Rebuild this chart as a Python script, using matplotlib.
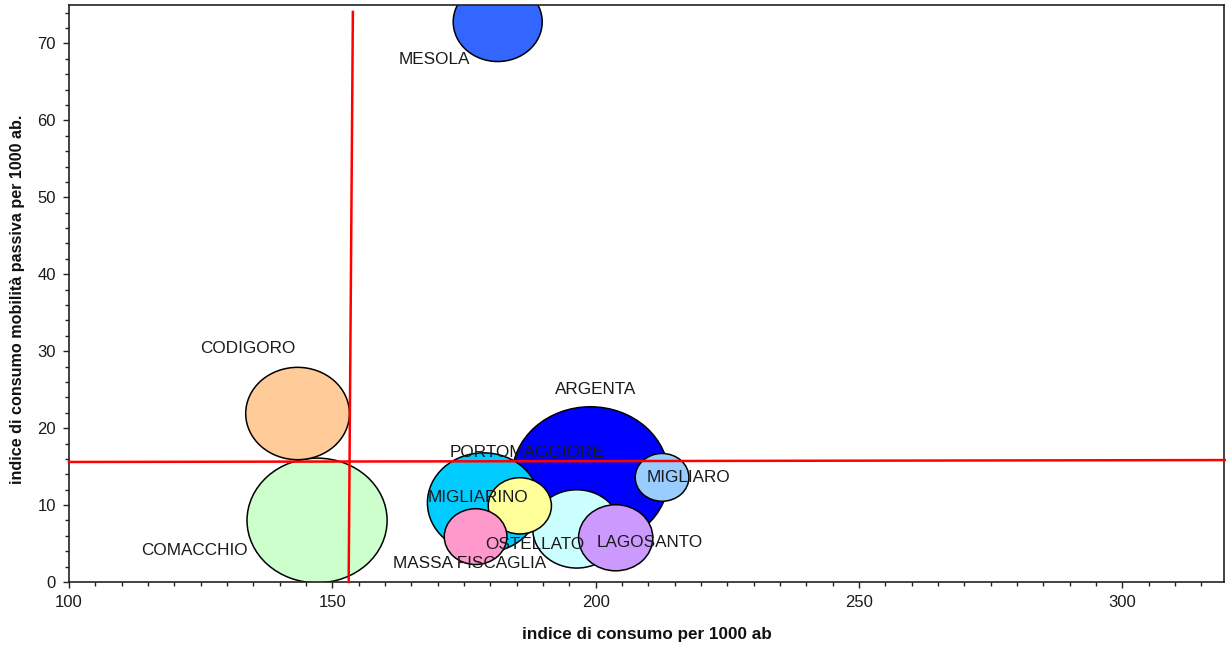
import matplotlib
matplotlib.use("Agg")
import matplotlib.pyplot as plt
from matplotlib.patches import Ellipse
from matplotlib.ticker import MultipleLocator

# Municipalities: consumption index (x), passive-mobility index (y), bubble diameter (x units)
comuni = ["ARGENTA", "COMACCHIO", "PORTOMAGGIORE", "CODIGORO", "MESOLA",
          "OSTELLATO", "LAGOSANTO", "MIGLIARINO", "MASSA FISCAGLIA", "MIGLIARO"]
consumo = [199.0, 147.1, 178.7, 143.4, 181.4, 196.4, 203.8, 185.6, 177.2, 212.6]
mobilita = [13.7, 8.0, 10.3, 21.9, 72.8, 6.9, 5.75, 9.9, 5.9, 13.6]
diametro = [29.8, 26.6, 21.3, 19.7, 16.9, 16.7, 14.1, 12.0, 11.9, 10.2]
colori = ["#0000FF", "#CCFFCC", "#00CCFF", "#FFCC99", "#3366FF",
          "#CCFFFF", "#CC99FF", "#FFFF99", "#FF99CC", "#99CCFF"]

# Label offsets from bubble centre (pixels)
label_offset = {
    "ARGENTA": (5, 87), "COMACCHIO": (-123, -30), "PORTOMAGGIORE": (43, 50),
    "CODIGORO": (-50, 65), "MESOLA": (-63, -38), "OSTELLATO": (-42, -16),
    "LAGOSANTO": (34, -5), "MIGLIARINO": (-42, 8), "MASSA FISCAGLIA": (-6, -27),
    "MIGLIARO": (26, 0),
}

# Reference lines (mean values)
vline_x = [153.1, 153.9]
vline_y = [0.0, 74.1]
hline_x = [100.0, 320.0]
hline_y = [15.6, 15.85]

x_min, x_max = 100, 319.3
y_min, y_max = 0, 75
BUBBLE_ASPECT = 0.89

plt.rcParams["font.family"] = ["Liberation Sans", "DejaVu Sans"]

fig = plt.figure(figsize=(12.26, 6.48), dpi=100)
ax = fig.add_axes([69 / 1226, 66 / 648, 1155 / 1226, 577 / 648])
ax.set_xlim(x_min, x_max)
ax.set_ylim(y_min, y_max)

# pixel scale of each axis, to keep bubbles nearly round on screen
px_x = ax.get_position().width * fig.get_figwidth() * fig.dpi / (x_max - x_min)
px_y = ax.get_position().height * fig.get_figheight() * fig.dpi / (y_max - y_min)

for name, x, y, d, c in zip(comuni, consumo, mobilita, diametro, colori):
    h = d * BUBBLE_ASPECT * px_x / px_y
    ax.add_patch(Ellipse((x, y), d, h, facecolor=c, edgecolor="black",
                         linewidth=1.1, zorder=2))

for name, x, y in zip(comuni, consumo, mobilita):
    dx, dy = label_offset[name]
    ax.annotate(name, (x, y), xytext=(dx, dy), textcoords="offset pixels",
                ha="center", va="center", fontsize=12.3, color="#1a1a1a",
                zorder=5)

ax.plot(vline_x, vline_y, color="#FF0000", linewidth=1.8, zorder=4, clip_on=False)
ax.plot(hline_x, hline_y, color="#FF0000", linewidth=1.8, zorder=4, clip_on=False)

ax.xaxis.set_major_locator(MultipleLocator(50))
ax.xaxis.set_minor_locator(MultipleLocator(5))
ax.yaxis.set_major_locator(MultipleLocator(10))
ax.yaxis.set_minor_locator(MultipleLocator(2))
ax.tick_params(axis="both", which="major", direction="out", length=4.3,
               width=1.0, labelsize=12, labelcolor="#1a1a1a", color="#222222")
ax.tick_params(axis="both", which="minor", direction="out", length=2.8,
               width=1.0, color="#222222")
ax.tick_params(axis="x", which="major", pad=5)
ax.tick_params(axis="y", which="major", pad=5)

for s in ax.spines.values():
    s.set_linewidth(1.2)
    s.set_color("#222222")

ax.set_xlabel("indice di consumo per 1000 ab", fontsize=12.3, fontweight="bold",
              color="#111111")
ax.xaxis.set_label_coords(0.5, -0.078)
ax.set_ylabel("indice di consumo mobilità passiva per 1000 ab.", fontsize=11.6,
              fontweight="bold", color="#111111")
ax.yaxis.set_label_coords(-0.038, 0.49)

fig.savefig("out.png", dpi=100)
